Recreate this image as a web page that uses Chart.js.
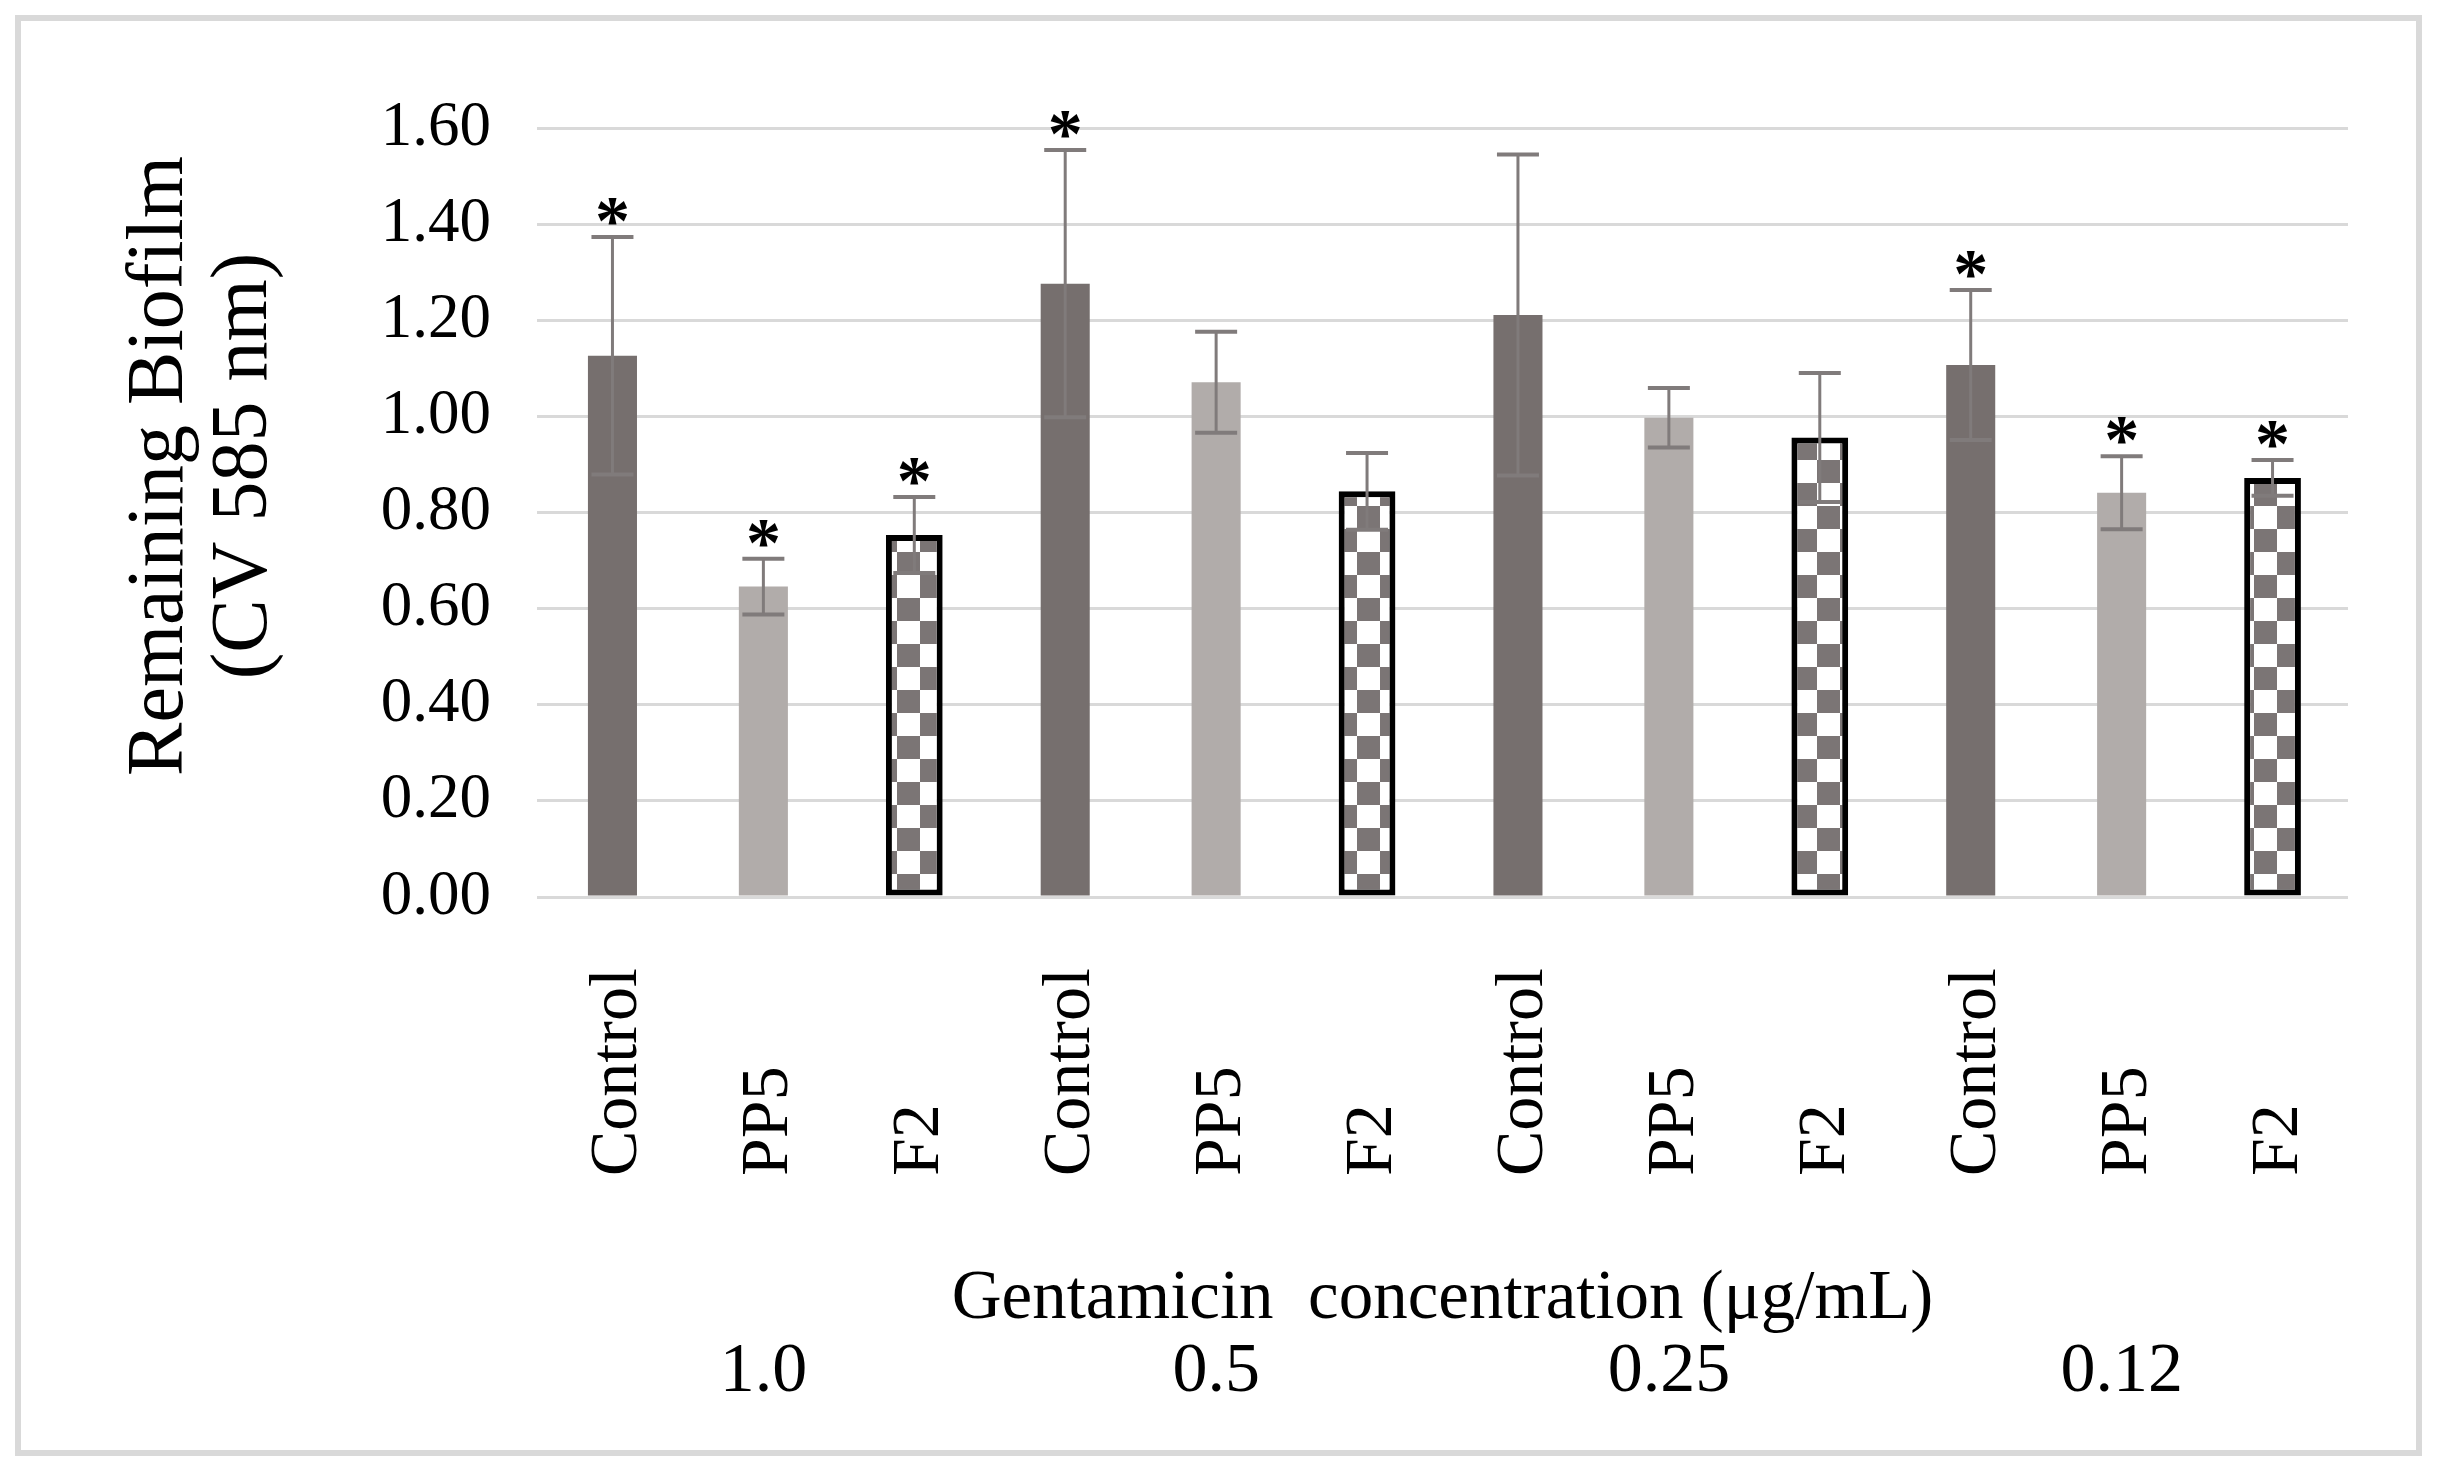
<!DOCTYPE html>
<html>
<head>
<meta charset="utf-8">
<script src="https://cdn.jsdelivr.net/npm/chart.js@4.4.1/dist/chart.umd.min.js"></script>
<style>
html,body{margin:0;padding:0;background:#ffffff;}
canvas{display:block;}
</style>
</head>
<body>
<canvas id="c" width="2443" height="1472"></canvas>
<script>
// ---- data ----
const categories = ['Control','PP5','F2','Control','PP5','F2','Control','PP5','F2','Control','PP5','F2'];
const groupLabels = ['1.0','0.5','0.25','0.12'];
const means  = [1.126, 0.646, 0.753, 1.276, 1.071, 0.844, 1.211, 0.997, 0.956, 1.107, 0.841, 0.872];
const errors = [0.247, 0.058, 0.079, 0.278, 0.105, 0.080, 0.334, 0.062, 0.134, 0.156, 0.076, 0.037];
const significant = [true, true, true, true, false, false, false, false, false, true, true, true];
const yTitleLines = ['Remaining Biofilm', '(CV 585 nm)'];
const xTitle = 'Gentamicin  concentration (\u03bcg/mL)';
const yMin = 0, yMax = 1.6, yStep = 0.2;

// ---- styles ----
const SERIF = '"Liberation Serif", "Times New Roman", serif';
const colControl = '#766f6e';
const colPP5 = '#b1acaa';
const colChecker = '#7b7575';
const errColor = '#807b7b';

function checkerPattern(ctx) {
  const s = 23;
  const c = document.createElement('canvas');
  c.width = 2 * s; c.height = 2 * s;
  const g = c.getContext('2d');
  g.fillStyle = '#ffffff'; g.fillRect(0, 0, 2 * s, 2 * s);
  g.fillStyle = colChecker;
  g.fillRect(s, 0, s, s);
  g.fillRect(0, s, s, s);
  return ctx.createPattern(c, 'repeat');
}

const canvas = document.getElementById('c');
const ctx = canvas.getContext('2d');
const pattern = checkerPattern(ctx);

const solidData = means.map((v, i) => categories[i] === 'F2' ? null : v);
const checkData = means.map((v, i) => categories[i] === 'F2' ? v : null);
const solidColors = categories.map(c => c === 'Control' ? colControl : colPP5);

const overlay = {
  id: 'overlay',
  beforeDraw(chart) {
    const c = chart.ctx;
    c.save();
    c.fillStyle = '#ffffff';
    c.fillRect(0, 0, chart.width, chart.height);
    c.restore();
  },
  afterDatasetsDraw(chart) {
    const c = chart.ctx;
    const xs = chart.scales.x, ys = chart.scales.y;
    c.save();
    // error bars
    for (let i = 0; i < means.length; i++) {
      const x = xs.getPixelForValue(i);
      const yt = ys.getPixelForValue(means[i] + errors[i]);
      const yb = ys.getPixelForValue(means[i] - errors[i]);
      c.strokeStyle = errColor;
      c.lineWidth = 3;
      c.beginPath(); c.moveTo(x, yt); c.lineTo(x, yb); c.stroke();
      c.lineWidth = 4;
      c.beginPath(); c.moveTo(x - 21, yt); c.lineTo(x + 21, yt); c.stroke();
      c.beginPath(); c.moveTo(x - 21, yb); c.lineTo(x + 21, yb); c.stroke();
      if (significant[i]) {
        c.font = 'bold 70px ' + SERIF;
        c.fillStyle = '#000000';
        c.textAlign = 'center';
        c.textBaseline = 'alphabetic';
        const m = c.measureText('*');
        const desc = m.actualBoundingBoxDescent || -18;
        c.fillText('*', x, yt - 12 - desc);
      }
    }
    c.restore();
  },
  afterDraw(chart) {
    const c = chart.ctx;
    const xs = chart.scales.x;
    const area = chart.chartArea;
    c.save();
    // outer frame
    c.strokeStyle = '#d9d9d9';
    c.lineWidth = 6;
    c.strokeRect(18, 18, 2401, 1435);
    c.fillStyle = '#000000';
    // category labels (rotated, start-aligned at the bottom)
    c.font = '68px ' + SERIF;
    c.textAlign = 'left';
    c.textBaseline = 'alphabetic';
    for (let i = 0; i < categories.length; i++) {
      const x = xs.getPixelForValue(i);
      c.save();
      c.translate(x + 24, 1176);
      c.rotate(-Math.PI / 2);
      c.fillText(categories[i], 0, 0);
      c.restore();
    }
    // x title
    c.textAlign = 'center';
    c.font = '69px ' + SERIF;
    c.fillText(xTitle, (area.left + area.right) / 2, 1318);
    // group labels
    c.font = '70px ' + SERIF;
    for (let g = 0; g < groupLabels.length; g++) {
      const x = xs.getPixelForValue(g * 3 + 1);
      c.fillText(groupLabels[g], x, 1391);
    }
    // y title
    c.font = '80px ' + SERIF;
    const baseX = [182, 266];
    for (let k = 0; k < yTitleLines.length; k++) {
      c.save();
      c.translate(baseX[k], 466);
      c.rotate(-Math.PI / 2);
      c.textAlign = 'center';
      c.fillText(yTitleLines[k], 0, 0);
      c.restore();
    }
    c.restore();
  }
};

new Chart(ctx, {
  type: 'bar',
  data: {
    labels: categories,
    datasets: [
      {
        label: 'solid',
        data: solidData,
        backgroundColor: solidColors,
        borderWidth: 0,
        barPercentage: 0.325,
        categoryPercentage: 1.0,
        grouped: false,
        order: 2
      },
      {
        label: 'F2',
        data: checkData,
        backgroundColor: pattern,
        borderColor: '#000000',
        borderWidth: 6,
        borderSkipped: false,
        barPercentage: 0.376,
        categoryPercentage: 1.0,
        grouped: false,
        order: 1
      }
    ]
  },
  options: {
    responsive: false,
    animation: false,
    devicePixelRatio: 1,
    layout: { padding: { left: 0, right: 95, top: 128, bottom: 0 } },
    plugins: { legend: { display: false }, tooltip: { enabled: false }, title: { display: false } },
    scales: {
      x: {
        grid: { display: false },
        border: { display: false },
        ticks: { display: false },
        afterFit(scale) { scale.height = 575; }
      },
      y: {
        min: yMin,
        max: yMax,
        grid: { color: '#d9d9d9', lineWidth: 3, drawTicks: false },
        border: { display: false },
        ticks: {
          stepSize: yStep,
          padding: 46,
          color: '#000000',
          font: { family: SERIF, size: 63 },
          callback: v => Number(v).toFixed(2)
        },
        afterFit(scale) { scale.width = 537; }
      }
    }
  },
  plugins: [overlay]
});
</script>
</body>
</html>
